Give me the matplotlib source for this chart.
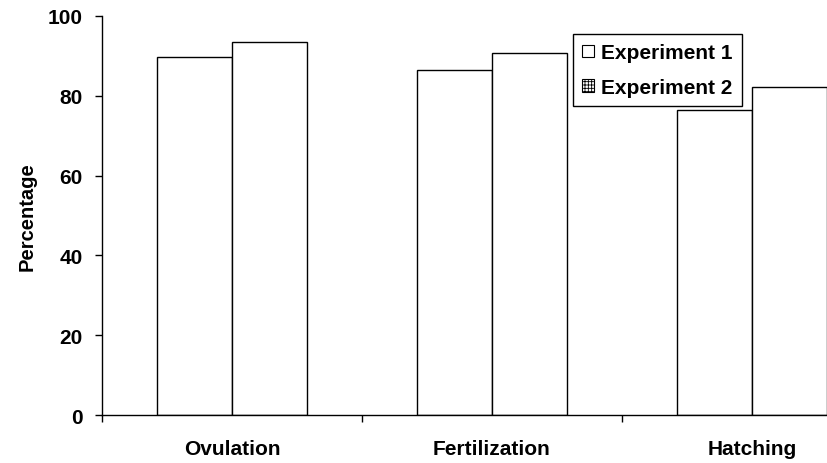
import numpy as np
import matplotlib.pyplot as plt
from matplotlib.patches import Patch

plt.rcParams['font.family'] = ['Liberation Sans', 'DejaVu Sans']
plt.rcParams['font.weight'] = 'bold'
plt.rcParams['hatch.linewidth'] = 0.6

categories = ['Ovulation', 'Fertilization', 'Hatching']
exp1 = [89.8, 86.4, 76.5]
exp2 = [93.5, 90.7, 82.2]
series_names = ['Experiment 1', 'Experiment 2']

fig = plt.figure(figsize=(8.28, 4.64), dpi=100)
# axis runs past the right edge of the picture, as in the original
ax = fig.add_axes([0.1232, 0.1034, 0.9420, 0.86])

x = np.arange(len(categories))
w = 0.288
ax.bar(x - w / 2, exp1, w, color='white', edgecolor='black', linewidth=1.0)
ax.bar(x + w / 2, exp2, w, color='white', edgecolor='black', linewidth=1.0)

ax.set_xlim(-0.5, 2.5)
ax.set_ylim(0, 100)
ax.set_yticks([0, 20, 40, 60, 80, 100])
ax.set_xticks([-0.5, 0.5, 1.5, 2.5])
ax.set_xticklabels([])
ax.set_xticks(x, minor=True)
ax.set_xticklabels(categories, minor=True, fontsize=15, fontweight='bold')
ax.tick_params(axis='x', which='minor', length=0, pad=17)
ax.tick_params(axis='y', which='major', pad=9)
ax.tick_params(axis='both', which='major', direction='out', length=5,
               width=1.0, labelsize=15)
for lbl in ax.get_yticklabels():
    lbl.set_fontweight('bold')

for s in ['top', 'right']:
    ax.spines[s].set_visible(False)
for s in ['left', 'bottom']:
    ax.spines[s].set_linewidth(1.0)

ax.set_ylabel('Percentage', fontsize=14.5, fontweight='bold', labelpad=8)

handles = [Patch(facecolor='white', edgecolor='black', linewidth=0.8),
           Patch(facecolor='white', edgecolor='black', linewidth=0.8, hatch='+++++')]
fig.legend(handles, series_names, loc='upper left',
           bbox_to_anchor=(573 / 828, 1 - 35 / 464),
           bbox_transform=fig.transFigure, borderaxespad=0,
           fancybox=False, edgecolor='black', framealpha=1,
           prop={'size': 15, 'weight': 'bold'},
           handlelength=0.55, handleheight=0.55, handletextpad=0.35,
           borderpad=0.45, labelspacing=0.75)

fig.savefig('out.png', dpi=100)
